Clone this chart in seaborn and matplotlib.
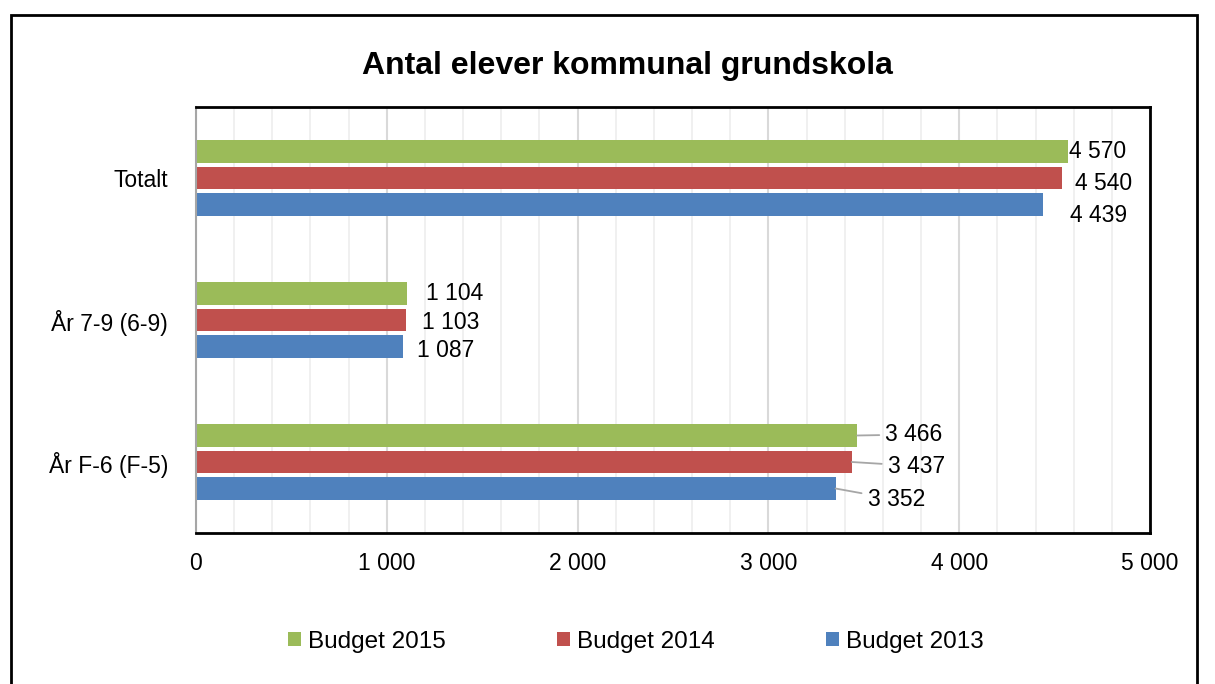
import pandas as pd
import seaborn as sns
import matplotlib.pyplot as plt
from matplotlib.patches import Patch, Rectangle
from matplotlib.ticker import MultipleLocator, FuncFormatter

# data
kategorier = ["Totalt", "År 7-9 (6-9)", "År F-6 (F-5)"]
serier = ["Budget 2015", "Budget 2014", "Budget 2013"]
budget_2015 = [4570, 1104, 3466]
budget_2014 = [4540, 1103, 3437]
budget_2013 = [4439, 1087, 3352]
farger = ["#9BBB59", "#C0504D", "#4F81BD"]

rows = []
for serie, vals in zip(serier, [budget_2015, budget_2014, budget_2013]):
    for kat, v in zip(kategorier, vals):
        rows.append({"kategori": kat, "serie": serie, "elever": v})
df = pd.DataFrame(rows)

sns.set_theme(style="white")
plt.rcParams["font.family"] = ["Liberation Sans", "DejaVu Sans"]
plt.rcParams["text.color"] = "black"

fig = plt.figure(figsize=(12.15, 6.84), dpi=100)
ax = fig.add_axes([196 / 1215, 1 - 533 / 684, (1150 - 196) / 1215, (533 - 107) / 684])

sns.barplot(data=df, y="kategori", x="elever", hue="serie", order=kategorier,
            hue_order=serier, palette=farger, orient="h", width=0.56, gap=0.16,
            saturation=1, linewidth=0, legend=False, ax=ax)

ax.set_xlim(0, 5000)
ax.set_ylim(2.5, -0.5)
ax.xaxis.set_major_locator(MultipleLocator(1000))
ax.xaxis.set_minor_locator(MultipleLocator(200))
ax.xaxis.set_major_formatter(FuncFormatter(lambda v, p: f"{v:,.0f}".replace(",", " ")))
ax.grid(axis="x", which="major", color="#D9D9D9", lw=1.5)
ax.grid(axis="x", which="minor", color="#EDEDED", lw=1.2)
ax.set_axisbelow(True)
ax.set_xlabel("")
ax.set_ylabel("")

ax.tick_params(axis="x", which="both", length=0, pad=14, labelsize=16.5, labelcolor="black")
ax.tick_params(axis="y", which="major", length=0, pad=20, labelsize=16.5, labelcolor="black")
ax.set_yticks([-0.5, 0.5, 1.5, 2.5], minor=True)
ax.tick_params(axis="y", which="minor", length=6, width=1.2, color="#A6A6A6", direction="out")

for side in ["top", "right", "bottom"]:
    ax.spines[side].set_color("black")
    ax.spines[side].set_linewidth(2)
ax.spines["left"].set_color("#A6A6A6")
ax.spines["left"].set_linewidth(1.5)

# label offsets in pixels (dx, dy down) per category and series
offsets = {
    (0, 0): (1, 0), (0, 1): (13, 5), (0, 2): (27, 11),
    (1, 0): (19, 0), (1, 1): (16, 2), (1, 2): (14, 4),
    (2, 0): (28, -1), (2, 1): (36, 4), (2, 2): (32, 11),
}
for si, cont in enumerate(ax.containers):
    for bar in cont:
        v = bar.get_width()
        yc = bar.get_y() + bar.get_height() / 2
        ki = int(round(yc))
        dx, dy = offsets[(ki, si)]
        txt = f"{v:,.0f}".replace(",", " ")
        arrow = None
        if ki == 2:
            arrow = dict(arrowstyle="-", color="#A6A6A6", lw=1.3, shrinkA=2, shrinkB=0)
        ax.annotate(txt, xy=(v, yc), xytext=(dx, -dy), textcoords="offset pixels",
                    ha="left", va="center", fontsize=16.5, color="black",
                    arrowprops=arrow, annotation_clip=False)

fig.text(627 / 1215, 1 - 66 / 684, "Antal elever kommunal grundskola",
         ha="center", va="center", fontsize=23, fontweight="bold", color="black")

handles = [Patch(facecolor=c, edgecolor="none") for c in farger]
fig.legend(handles, serier, loc="center", bbox_to_anchor=(636 / 1215, 1 - 642 / 684),
           ncol=3, frameon=False, fontsize=17.5, handlelength=0.5, handleheight=0.5,
           handletextpad=0.3, columnspacing=4.6, labelcolor="black")

# outer chart border
fig.patches.append(Rectangle((11 / 1215, -0.05), (1197 - 11) / 1215, 1.05 - 15 / 684,
                             transform=fig.transFigure, fill=False, edgecolor="black",
                             lw=2, clip_on=False))

fig.savefig("out.png", dpi=100)
plt.close(fig)
